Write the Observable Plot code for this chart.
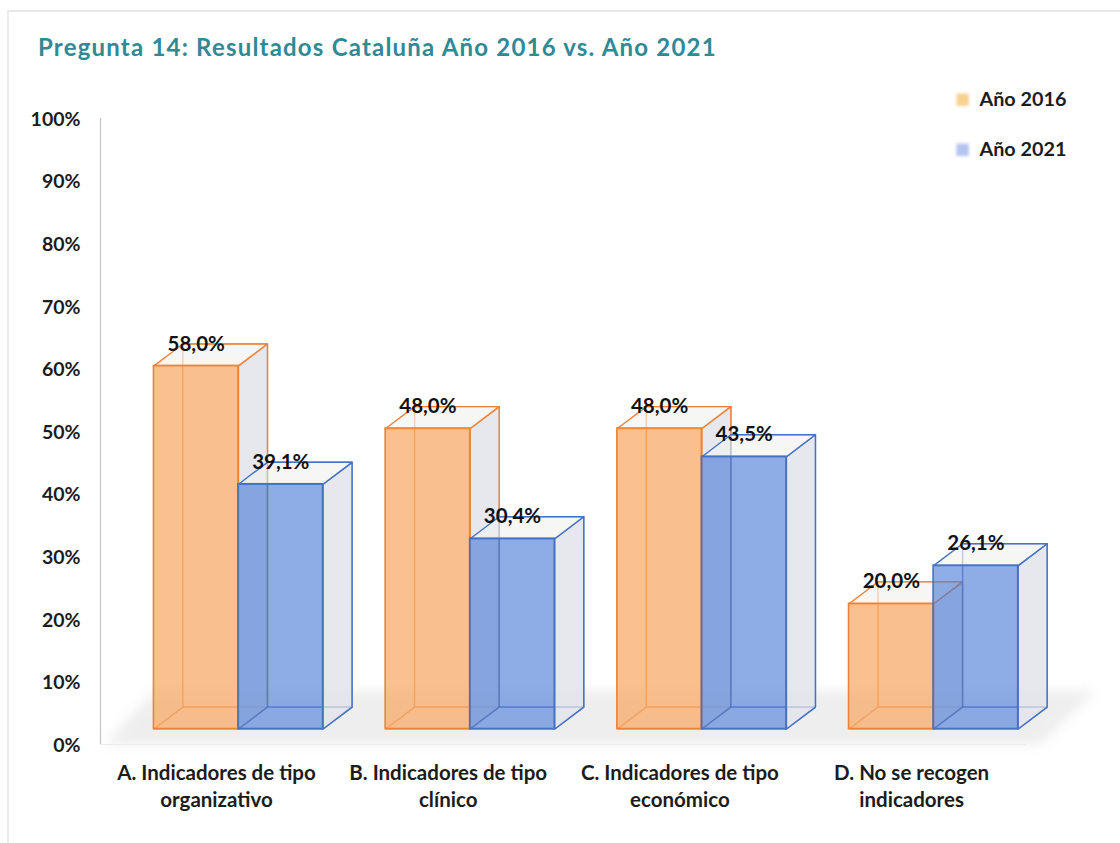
<!DOCTYPE html>
<html lang="es">
<head>
<meta charset="utf-8">
<title>Pregunta 14</title>
<script src="https://cdn.jsdelivr.net/npm/d3@7"></script>
<script src="https://cdn.jsdelivr.net/npm/@observablehq/plot@0.6"></script>
<style>
  html, body { margin: 0; padding: 0; background: #fff; }
  body { width: 1120px; height: 843px; position: relative; overflow: hidden; font-family: Lato, sans-serif; }
  #frame { position: absolute; left: 7px; top: 10px; right: 0; bottom: 0; border-left: 2px solid #ececec; border-top: 2px solid #e8e8e8; }
  #title { position: absolute; left: 38px; top: 32px; line-height: 30px; font-size: 24px; font-weight: 700; letter-spacing: 1.2px; color: #2f8a96; white-space: nowrap; }
  #chart { position: absolute; left: 0; top: 60px; }
  svg { display: block; overflow: visible; }
</style>
</head>
<body>
<div id="frame"></div>
<div id="title">Pregunta 14: Resultados Cataluña Año 2016 vs. Año 2021</div>
<div id="chart"></div>
<script>
const categories = ["A. Indicadores de tipo\norganizativo", "B. Indicadores de tipo\nclínico", "C. Indicadores de tipo\neconómico", "D. No se recogen\nindicadores"];
const years = ["Año 2016", "Año 2021"];
const values2016 = [58.0, 48.0, 48.0, 20.0];
const values2021 = [39.1, 30.4, 43.5, 26.1];
const yTicks = [0, 10, 20, 30, 40, 50, 60, 70, 80, 90, 100];

const strokes = ["#ee8338", "#4472c4"];
const fronts = ["#f8a55f", "#4a7ad6"];
const frontOpacity = [0.7, 0.62];
const legendColors = ["#f9d190", "#b5c3f0"];
const barWidth = 0.365, depthX = 0.125, depthY = 3.5, lift = -15.5;
const textColor = "#1c1c1c";

const bars = [values2016, values2021].map((vals, s) =>
  vals.map((v, i) => ({ i, v, x1: i + (s - 1) * barWidth, x2: i + s * barWidth, s })));

function faces(list) {
  const back = [], side = [], top = [], floor = [];
  list.forEach((b, k) => {
    const poly = (arr, pts) => pts.forEach(([x, y]) => arr.push({ x, y, z: k }));
    poly(back, [[b.x1 + depthX, depthY], [b.x2 + depthX, depthY], [b.x2 + depthX, b.v + depthY], [b.x1 + depthX, b.v + depthY]]);
    poly(floor, [[b.x1, 0], [b.x2, 0], [b.x2 + depthX, depthY], [b.x1 + depthX, depthY]]);
    poly(side, [[b.x2, 0], [b.x2 + depthX, depthY], [b.x2 + depthX, b.v + depthY], [b.x2, b.v]]);
    poly(top, [[b.x1, b.v], [b.x2, b.v], [b.x2 + depthX, b.v + depthY], [b.x1 + depthX, b.v + depthY]]);
  });
  return { back, side, top, floor };
}

function cuboids(list, s) {
  const f = faces(list);
  const c = strokes[s];
  const common = { x: "x", y: "y", z: "z", curve: "linear-closed", dy: lift, stroke: c, strokeWidth: 1.4, strokeLinejoin: "round" };
  return [
    Plot.line(f.back, { ...common, fill: "#f8f8fa", fillOpacity: 0.4, strokeOpacity: 0.8 }),
    Plot.line(f.floor, { ...common, fill: "#f6f6f8", fillOpacity: 0.5, strokeOpacity: 0.8 }),
    Plot.line(f.side, { ...common, fill: "#dfe1e7", fillOpacity: 0.72 }),
    Plot.line(f.top, { ...common, fill: "#f1f1f0", fillOpacity: 0.6 }),
    Plot.rect(list, { x1: "x1", x2: "x2", y1: () => 0, y2: "v", dy: lift, fill: fronts[s], fillOpacity: frontOpacity[s], stroke: c, strokeWidth: 1.6 })
  ];
}

const floorShape = [
  { x: -0.58, y: 0 }, { x: -0.36, y: 8.6 }, { x: 3.7, y: 8.6 }, { x: 3.46, y: 0 }
];

const labelRows = bars.flat().map(b => ({
  x: (b.x1 + b.x2) / 2, v: b.v, label: b.v.toFixed(1).replace(".", ",") + "%"
}));

const legendRows = years.map((name, s) => ({ name, s, y: [103, 95][s] }));

const plot = Plot.plot({
  width: 1120,
  height: 783,
  marginTop: 58,
  marginBottom: 99,
  marginLeft: 100,
  marginRight: 0,
  style: { background: "transparent", fontFamily: "Lato, sans-serif", overflow: "visible" },
  x: { domain: [-0.5956, 3.8066], axis: null },
  y: { domain: [0, 100], axis: null },
  marks: [
    Plot.line(floorShape, { x: "x", y: "y", curve: "linear-closed", fill: "#e4e4e4", fillOpacity: 0.62, stroke: "none", imageFilter: "blur(6px)" }),
    Plot.ruleY([0], { x1: -0.5956, x2: 3.4, stroke: "#ececec", strokeWidth: 1.2 }),
    Plot.ruleX([-0.5956], { y1: 0, y2: 100, stroke: "#c4c4c4", strokeWidth: 1.2 }),
    Plot.axisY({ ticks: yTicks, tickFormat: d => d + "%", tickSize: 0, tickPadding: 20, dy: 1, fontSize: 19.5, fontWeight: 700, fill: textColor }),
    Plot.axisX({ ticks: [0, 1, 2, 3], tickFormat: i => categories[i], tickSize: 0, tickPadding: 16, dx: -22, fontSize: 20.5, fontWeight: 700, lineHeight: 1.32, fill: textColor }),
    ...cuboids(bars[0], 0),
    ...cuboids(bars[1], 1),
    Plot.text(labelRows, { x: "x", y: "v", text: "label", dy: lift - depthY * 6.26, fontSize: 20.5, fontWeight: 700, fill: "#111" }),
    Plot.dot(legendRows, { x: () => 3.125, y: "y", symbol: "square", r: 7, fill: d => legendColors[d.s], imageFilter: "blur(1.5px)" }),
    Plot.text(legendRows, { x: () => 3.198, y: "y", text: "name", textAnchor: "start", fontSize: 19.8, fontWeight: 700, fill: textColor })
  ]
});
document.getElementById("chart").appendChild(plot);
</script>
</body>
</html>
